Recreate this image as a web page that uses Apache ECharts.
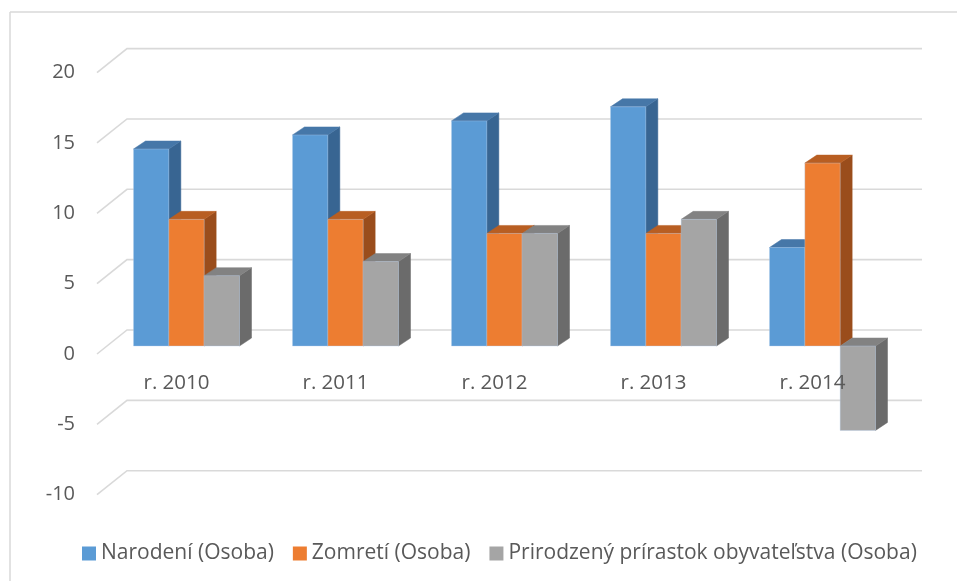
<!DOCTYPE html>
<html>
<head>
<meta charset="utf-8">
<script src="https://cdn.jsdelivr.net/npm/echarts@6/dist/echarts.min.js"></script>
<style>
html,body{margin:0;padding:0;background:#fff;}
#chart{width:957px;height:581px;}
</style>
</head>
<body>
<div id="chart"></div>
<script>
// ---- data ----
var categories = ['r. 2010', 'r. 2011', 'r. 2012', 'r. 2013', 'r. 2014'];
var seriesNames = ['Narodení (Osoba)', 'Zomretí (Osoba)', 'Prirodzený prírastok obyvateľstva (Osoba)'];
var narodeni = [14, 15, 16, 17, 7];
var zomreti = [9, 9, 8, 8, 13];
var prirastok = [5, 6, 8, 9, -6];
var yTicks = [-10, -5, 0, 5, 10, 15, 20];

// ---- styles ----
var faceColors = [
  {front: '#5B9BD5', top: '#4677A8', side: '#386592'},
  {front: '#ED7D31', top: '#B85E22', side: '#9A4D1C'},
  {front: '#A5A5A5', top: '#828282', side: '#6B6B6B'}
];
var FONT = '"Open Sans", "Noto Sans", sans-serif';
var TXT = '#595959';
var FX = 10, FY = -8;   // front face offset from floor front edge
var DX = 12, DY = -8;   // bar depth
var WX = 30, WY = -24;  // back wall offset

function barRenderer(sIdx) {
  return function (params, api) {
    var idx = api.value(0), v = api.value(1);
    var c = api.coord([idx, v]);
    var c0 = api.coord([idx, 0]);
    var band = api.size([1, 0])[0];
    var bw = band * 2 / 9;
    var x0 = c[0] - band / 3 + sIdx * bw + FX;
    var x1 = x0 + bw;
    var yT = Math.min(c[1], c0[1]) + FY;
    var yB = Math.max(c[1], c0[1]) + FY;
    var col = faceColors[sIdx];
    return {
      type: 'group',
      children: [
        {type: 'polygon', shape: {points: [[x1, yT], [x1 + DX, yT + DY], [x1 + DX, yB + DY], [x1, yB]]},
         style: {fill: col.side, stroke: col.side, lineWidth: 0.5}},
        {type: 'polygon', shape: {points: [[x0, yT], [x1, yT], [x1 + DX, yT + DY], [x0 + DX, yT + DY]]},
         style: {fill: col.top, stroke: col.top, lineWidth: 0.5}},
        {type: 'rect', shape: {x: x0, y: yT, width: x1 - x0, height: yB - yT},
         style: {fill: col.front, stroke: 'rgba(180,205,235,0.6)', lineWidth: 0.6}}
      ]
    };
  };
}

function gridRenderer(params, api) {
  var cs = params.coordSys;
  var y = api.coord([0, api.value(1)])[1];
  var xl = cs.x, xr = cs.x + cs.width;
  return {
    type: 'polyline',
    shape: {points: [[xl, y], [xl + WX, y + WY], [xr + WX, y + WY]]},
    style: {stroke: '#D9D9D9', lineWidth: 1.6, fill: null}
  };
}

var seriesData = [narodeni, zomreti, prirastok];
var series = [{
  type: 'custom',
  name: 'grid',
  silent: true,
  z: 1,
  renderItem: gridRenderer,
  data: yTicks.map(function (t) { return [0, t]; }),
  encode: {x: 0, y: 1}
}];
seriesData.forEach(function (arr, s) {
  series.push({
    type: 'custom',
    name: seriesNames[s],
    z: 2 + s,
    itemStyle: {color: faceColors[s].front},
    renderItem: barRenderer(s),
    data: arr.map(function (v, i) { return [i, v]; }),
    encode: {x: 0, y: 1}
  });
});

var chart = echarts.init(document.getElementById('chart'), null, {renderer: 'canvas'});
chart.setOption({
  animation: false,
  backgroundColor: '#ffffff',
  graphic: [
    {type: 'line', shape: {x1: 10, y1: 12, x2: 957, y2: 12}, style: {stroke: '#D9D9D9', lineWidth: 1.5}, silent: true},
    {type: 'line', shape: {x1: 10, y1: 12, x2: 10, y2: 581}, style: {stroke: '#D9D9D9', lineWidth: 1.5}, silent: true}
  ],
  grid: {left: 97, right: 65, top: 72.6, bottom: 86.3, containLabel: false},
  xAxis: {
    type: 'category',
    data: categories,
    position: 'bottom',
    offset: -140.7,
    z: 20,
    axisLine: {show: false, onZero: false},
    axisTick: {show: false},
    splitLine: {show: false},
    axisLabel: {fontFamily: FONT, fontSize: 20.5, color: TXT, margin: 19}
  },
  yAxis: {
    type: 'value',
    min: -10, max: 20, interval: 5,
    axisLine: {show: false},
    axisTick: {show: false},
    splitLine: {show: false},
    axisLabel: {fontFamily: FONT, fontSize: 20, color: TXT, margin: 22}
  },
  legend: {
    data: seriesNames,
    left: 77,
    top: 538,
    icon: 'rect',
    itemWidth: 14,
    itemHeight: 14,
    itemGap: 19,
    textStyle: {fontFamily: FONT, fontSize: 21, color: TXT}
  },
  series: series
});
</script>
</body>
</html>
